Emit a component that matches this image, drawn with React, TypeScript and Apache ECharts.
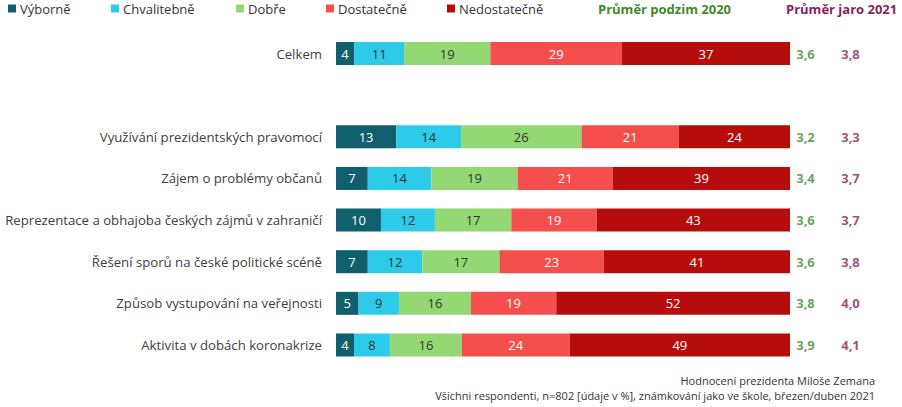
import React, { useEffect, useRef } from "react";
import * as echarts from "echarts";

const categories = [
  "Celkem",
  "",
  "Využívání prezidentských pravomocí",
  "Zájem o problémy občanů",
  "Reprezentace a obhajoba českých zájmů v zahraničí",
  "Řešení sporů na české politické scéně",
  "Způsob vystupování na veřejnosti",
  "Aktivita v dobách koronakrize",
];

const vyborne = [4, null, 13, 7, 10, 7, 5, 4];
const chvalitebne = [11, null, 14, 14, 12, 12, 9, 8];
const dobre = [19, null, 26, 19, 17, 17, 16, 16];
const dostatecne = [29, null, 21, 21, 19, 23, 19, 24];
const nedostatecne = [37, null, 24, 39, 43, 41, 52, 49];

const avg2020 = [3.6, null, 3.2, 3.4, 3.6, 3.6, 3.8, 3.9];
const avg2021 = [3.8, null, 3.3, 3.7, 3.7, 3.8, 4.0, 4.1];

const seriesNames = ["Výborně", "Chvalitebně", "Dobře", "Dostatečně", "Nedostatečně"];
const seriesColors = ["#0f5f6d", "#2ccbea", "#93d873", "#f44f4c", "#b70c0c"];
const labelColors = ["#ffffff", "#333333", "#333333", "#ffffff", "#ffffff"];
const legendLefts = [8, 111, 236, 326, 447];

const FONT = "'Open Sans', 'Noto Sans', sans-serif";

export default function App() {
  const ref = useRef<HTMLDivElement>(null);
  useEffect(() => {
    document.body.style.margin = "0";
    const chart = echarts.init(ref.current!, null, { renderer: "svg" });
    const values = [vyborne, chvalitebne, dobre, dostatecne, nedostatecne];
    const sums = categories.map((_, i) =>
      values.reduce((s, arr) => s + (arr[i] == null ? 0 : (arr[i] as number)), 0)
    );
    const barSeries = values.map((arr, k) => ({
      name: seriesNames[k],
      type: "bar",
      stack: "total",
      xAxisIndex: 0,
      yAxisIndex: 0,
      barWidth: 23,
      itemStyle: { color: seriesColors[k] },
      label: {
        show: true,
        position: "inside",
        color: labelColors[k],
        fontSize: 13,
        fontFamily: FONT,
        formatter: (p: any) => String(arr[p.dataIndex]),
      },
      data: arr.map((v, i) => (v == null ? "-" : ((v as number) / sums[i]) * 100)),
    }));
    const avgSeries = [
      { key: "2020", data: avg2020, color: "#3e8a2c" },
      { key: "2021", data: avg2021, color: "#8c1d5b" },
    ].map((s) => ({
      type: "scatter",
      xAxisIndex: 1,
      yAxisIndex: 1,
      symbolSize: 1,
      itemStyle: { color: "transparent" },
      label: {
        show: true,
        position: "inside",
        color: s.color,
        fontWeight: "bold",
        fontSize: 13,
        fontFamily: FONT,
        formatter: (p: any) => (p.value[2] as number).toFixed(1).replace(".", ","),
      },
      data: categories
        .map((c, i) => (s.data[i] == null ? null : [s.key, c, s.data[i]]))
        .filter((d) => d != null),
    }));

    chart.setOption({
      animation: false,
      textStyle: { fontFamily: FONT },
      legend: seriesNames.map((n, k) => ({
        data: [n],
        left: legendLefts[k],
        top: 2,
        padding: 0,
        itemWidth: 8,
        itemHeight: 8,
        icon: "rect",
        textStyle: { fontSize: 13, color: "#333333", fontFamily: FONT, padding: [0, 0, 0, -1] },
        selectedMode: false,
      })),
      grid: [
        { left: 336, right: 112, top: 32.7, bottom: 41.2 },
        { left: 783, width: 90, top: 32.7, bottom: 41.2 },
      ],
      xAxis: [
        { gridIndex: 0, type: "value", min: 0, max: 100, show: false },
        { gridIndex: 1, type: "category", data: ["2020", "2021"], show: false },
      ],
      yAxis: [
        {
          gridIndex: 0,
          type: "category",
          data: categories,
          inverse: true,
          axisLine: { show: false },
          axisTick: { show: false },
          splitLine: { show: false },
          axisLabel: { margin: 14, color: "#404040", fontSize: 13.2, fontFamily: FONT },
        },
        { gridIndex: 1, type: "category", data: categories, inverse: true, show: false },
      ],
      graphic: [
        {
          type: "text",
          left: 598,
          top: 2,
          style: {
            text: "Průměr podzim 2020",
            fill: "#3e8a2c",
            font: `bold 13px ${FONT}`,
          },
        },
        {
          type: "text",
          left: 786,
          top: 2,
          style: {
            text: "Průměr jaro 2021",
            fill: "#8c1d5b",
            font: `bold 13px ${FONT}`,
          },
        },
        {
          type: "text",
          right: 27,
          top: 375,
          style: {
            text: "Hodnocení prezidenta Miloše Zemana",
            fill: "#333333",
            font: `11px ${FONT}`,
            textAlign: "right",
          },
        },
        {
          type: "text",
          right: 27,
          top: 390,
          style: {
            text: "Všichni respondenti, n=802 [údaje v %], známkování jako ve škole, březen/duben 2021",
            fill: "#333333",
            font: `11px ${FONT}`,
            textAlign: "right",
          },
        },
      ],
      series: [...barSeries, ...avgSeries],
    });
    return () => chart.dispose();
  }, []);
  return <div ref={ref} style={{ width: 902, height: 407 }} />;
}
